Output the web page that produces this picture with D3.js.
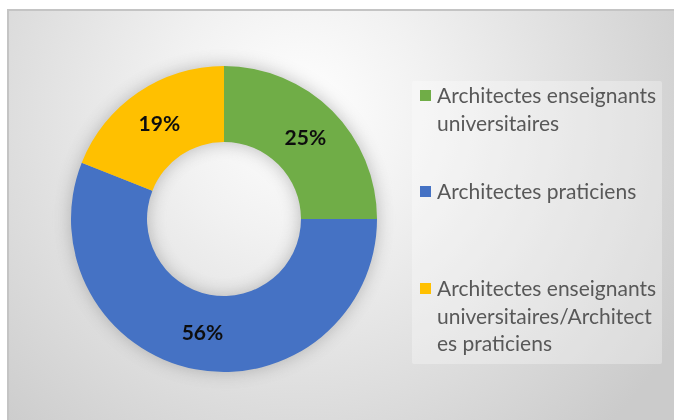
<!DOCTYPE html>
<html>
<head>
<meta charset="utf-8">
<script src="https://cdn.jsdelivr.net/npm/d3@7"></script>
<style>
  html, body { margin: 0; padding: 0; background: #ffffff; }
  svg { display: block; }
</style>
</head>
<body>
<svg id="chart" width="674" height="420"></svg>
<script>
// Répartition des architectes interrogés
const categories = [
  "Architectes enseignants universitaires",
  "Architectes praticiens",
  "Architectes enseignants universitaires/Architectes praticiens"
];
const values = [25, 56, 19];
const colors = ["#70AD47", "#4472C4", "#FFC000"];
// Legend entries as wrapped lines
const legendLines = [
  ["Architectes enseignants", "universitaires"],
  ["Architectes praticiens"],
  ["Architectes enseignants", "universitaires/Architect", "es praticiens"]
];

const W = 674, H = 420;
const svg = d3.select("#chart");
const defs = svg.append("defs");

// Chart area background: soft radial gradient
const bg = defs.append("radialGradient")
  .attr("id", "bgGrad")
  .attr("gradientUnits", "userSpaceOnUse")
  .attr("cx", 300).attr("cy", 110).attr("r", 440);
bg.append("stop").attr("offset", 0).attr("stop-color", "#ffffff");
bg.append("stop").attr("offset", 0.3).attr("stop-color", "#f1f1f1");
bg.append("stop").attr("offset", 1).attr("stop-color", "#cbcbcb");

const blur = defs.append("filter").attr("id", "shadow")
  .attr("x", "-30%").attr("y", "-30%").attr("width", "160%").attr("height", "160%");
blur.append("feGaussianBlur").attr("stdDeviation", 9);

const soft = defs.append("filter").attr("id", "soft");
soft.append("feGaussianBlur").attr("stdDeviation", 0.45);

svg.append("rect")
  .attr("x", 8).attr("y", 10)
  .attr("width", W - 8 + 2).attr("height", H - 10 + 2)
  .attr("fill", "url(#bgGrad)")
  .attr("stroke", "#c4c4c4")
  .attr("stroke-width", 2);

// Donut
const cx = 224, cy = 219;
const outerR = 153, innerR = 77;
const pie = d3.pie().sort(null).value(d => d)(values);
const arc = d3.arc().innerRadius(innerR).outerRadius(outerR);
const labelArc = d3.arc().innerRadius((innerR + outerR) / 2).outerRadius((innerR + outerR) / 2);

const g = svg.append("g").attr("transform", `translate(${cx},${cy})`);

// soft shadow around the ring
g.append("g").attr("filter", "url(#shadow)").attr("opacity", 0.48)
  .selectAll("path").data(pie).join("path")
  .attr("d", arc)
  .attr("fill", "#777777");

g.append("g").attr("filter", "url(#soft)")
  .selectAll("path").data(pie).join("path")
  .attr("d", arc)
  .attr("fill", (d, i) => colors[i]);

g.append("g").attr("filter", "url(#soft)")
  .selectAll("text").data(pie).join("text")
  .attr("transform", d => `translate(${labelArc.centroid(d)})`)
  .attr("text-anchor", "middle")
  .attr("dy", "0.36em")
  .attr("font-family", "Lato, 'Open Sans', sans-serif")
  .attr("font-weight", 700)
  .attr("font-size", 21)
  .attr("fill", "#111111")
  .text(d => d.data + "%");

// Legend
const legend = svg.append("g");
legend.append("rect")
  .attr("x", 412).attr("y", 81)
  .attr("width", 250).attr("height", 283)
  .attr("rx", 2)
  .attr("fill", "#ffffff").attr("opacity", 0.3);

const lineH = 27.5;
const entryY = [96, 192, 289];
const lg = legend.append("g").attr("filter", "url(#soft)");
legendLines.forEach((lines, i) => {
  lg.append("rect")
    .attr("x", 420).attr("y", entryY[i] - 6)
    .attr("width", 11).attr("height", 11)
    .attr("fill", colors[i]);
  const t = lg.append("text")
    .attr("x", 437).attr("y", entryY[i])
    .attr("font-family", "Lato, 'Open Sans', sans-serif")
    .attr("font-size", 21)
    .attr("fill", "#595959");
  lines.forEach((ln, j) => {
    t.append("tspan").attr("x", 437).attr("y", entryY[i] + j * lineH).attr("dy", "0.35em").text(ln);
  });
});
</script>
</body>
</html>
